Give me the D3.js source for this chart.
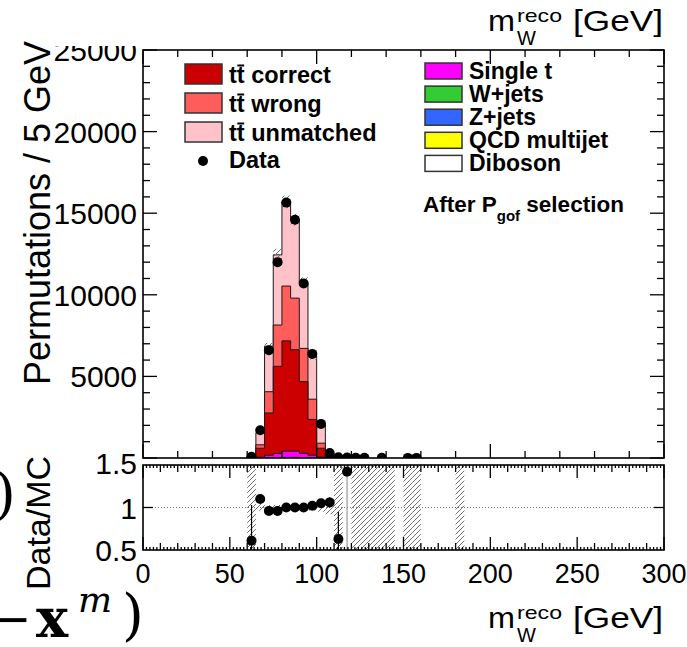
<!DOCTYPE html>
<html><head><meta charset="utf-8">
<script src="https://cdn.jsdelivr.net/npm/d3@7"></script>
<style>body{margin:0;background:#fff}svg{display:block;font-family:"Liberation Sans",Arial,Helvetica,sans-serif}</style>
</head><body><svg id="c" width="687" height="647"></svg>
<script>
// ---------- data ----------
const binStart    = [60, 65, 70, 75, 80, 85, 90, 95, 100, 105, 110, 115];
const binWidth    = 5;
const diboson     = [0, 1, 2, 3, 4, 4, 3, 2, 1, 0, 0, 0];
const qcd         = [0, 0, 5, 5, 5, 5, 5, 5, 0, 0, 0, 0];
const zjets       = [0, 2, 5, 5, 8, 8, 5, 5, 2, 0, 0, 0];
const wjets       = [0, 5, 10, 15, 20, 20, 15, 10, 5, 2, 0, 0];
const singleT     = [5, 40, 150, 250, 380, 380, 260, 150, 50, 10, 5, 0];
const ttCorrect   = [40, 550, 2590, 5340, 6760, 6220, 4390, 2190, 540, 80, 20, 8];
const ttWrong     = [25, 210, 1300, 2530, 3360, 3160, 2040, 1240, 310, 60, 20, 6];
const ttUnmatched = [60, 730, 2790, 4300, 5160, 4800, 4030, 2650, 1100, 135, 35, 7];

const dataX = [62.5, 67.5, 72.5, 77.5, 82.5, 87.5, 92.5, 97.5, 102.5, 107.5, 112.5, 117.5, 122.5, 127.5, 137.5, 152.5, 157.5];
const dataY = [80, 1700, 6600, 12000, 15650, 14600, 10700, 6380, 2090, 300, 50, 30, 15, 10, 8, 6, 6];

const ratioX  = [62.5, 67.5, 72.5, 77.5, 82.5, 87.5, 92.5, 97.5, 102.5, 107.5, 112.5, 117.5];
const ratioY  = [0.61, 1.10, 0.96, 0.96, 1.00, 1.00, 1.00, 1.02, 1.05, 1.06, 0.63, 1.42];
const ratioLo = [0.20, 1.09, 0.95, 0.95, 0.99, 0.99, 0.99, 1.01, 1.03, 1.00, 0.30, 0.30];
const ratioHi = [1.03, 1.11, 0.97, 0.97, 1.01, 1.01, 1.01, 1.03, 1.07, 1.12, 0.95, 2.50];

const uncBins = [60, 65, 70, 75, 80, 85, 90, 95, 100, 105, 110, 115, 120, 125, 130, 135, 140, 145, 150, 155, 160, 165, 170, 175, 180];
const uncRel  = [1, 0.04, 0.03, 0.03, 0.025, 0.025, 0.03, 0.035, 0.05, 0.08, 1, 0, 1, 1, 1, 1, 1, 0, 1, 1, 0, 0, 0, 0, 1];

const xTickLabels = [0, 50, 100, 150, 200, 250, 300];
const yTickLabels = [5000, 10000, 15000, 20000, 25000];
const rTickLabels = [0.5, 1, 1.5];

const legendLeft  = ["correct", "wrong", "unmatched"];
const legendRight = ["Single t", "W+jets", "Z+jets", "QCD multijet", "Diboson"];

// ---------- setup ----------
const svg = d3.select("#c");
const L = 143, R = 664, T = 50, B = 458, RT = 465, RB = 550;
const x  = d3.scaleLinear().domain([0, 300]).range([L, R]);
const y  = d3.scaleLinear().domain([0, 25000]).range([B, T]);
const yr = d3.scaleLinear().domain([0.5, 1.5]).range([RB, RT]);

const colors = {
  diboson: "#ffffff", qcd: "#ffff00", zjets: "#3366ff", wjets: "#33cc33",
  singleT: "#ff00ff", ttCorrect: "#cc0000", ttWrong: "#ff5c5c", ttUnmatched: "#ffc2c8"
};
const keys = ["diboson", "qcd", "zjets", "wjets", "singleT", "ttCorrect", "ttWrong", "ttUnmatched"];
const src = {diboson, qcd, zjets, wjets, singleT, ttCorrect, ttWrong, ttUnmatched};
const rows = binStart.map((b, i) => {
  const r = {b};
  keys.forEach(k => r[k] = src[k][i]);
  return r;
});
const series = d3.stack().keys(keys)(rows);

const defs = svg.append("defs");
const pat = defs.append("pattern").attr("id", "hatch").attr("patternUnits", "userSpaceOnUse")
  .attr("width", 5).attr("height", 5);
pat.append("path").attr("d", "M-1,1 l2,-2 M0,5 l5,-5 M4,6 l2,-2")
  .attr("stroke", "#707070").attr("stroke-width", 1);
defs.append("clipPath").attr("id", "clipMain").append("rect")
  .attr("x", L).attr("y", T).attr("width", R - L).attr("height", B - T);
defs.append("clipPath").attr("id", "clipRatio").append("rect")
  .attr("x", L).attr("y", RT).attr("width", R - L).attr("height", RB - RT);

// ---------- main panel ----------
const gMain = svg.append("g").attr("clip-path", "url(#clipMain)");

function stepPath(tops) {
  let p = `M${x(binStart[0])},${y(0)}`;
  tops.forEach((t, i) => {
    p += `L${x(binStart[i])},${y(t)}L${x(binStart[i] + binWidth)},${y(t)}`;
  });
  p += `L${x(binStart[binStart.length - 1] + binWidth)},${y(0)}Z`;
  return p;
}
for (let k = series.length - 1; k >= 0; k--) {
  const s = series[k];
  gMain.append("path").attr("d", stepPath(s.map(d => d[1])))
    .attr("fill", colors[s.key]).attr("stroke", "#1a1a1a").attr("stroke-width", 1);
}
// MC uncertainty hatch on top of stack
const total = series[series.length - 1].map(d => d[1]);
binStart.forEach((b, i) => {
  const u = uncRel[uncBins.indexOf(b)];
  if (!u || total[i] <= 0) return;
  gMain.append("rect").attr("x", x(b)).attr("width", x(b + binWidth) - x(b))
    .attr("y", y(total[i] * (1 + u))).attr("height", y(total[i] * (1 - u)) - y(total[i] * (1 + u)))
    .attr("fill", "url(#hatch)");
});
gMain.selectAll("circle.d").data(dataX).join("circle")
  .attr("cx", d => x(d)).attr("cy", (d, i) => y(dataY[i])).attr("r", 5).attr("fill", "#000");

// ---------- ratio panel ----------
const gRat = svg.append("g").attr("clip-path", "url(#clipRatio)");
uncBins.forEach((b, i) => {
  const u = uncRel[i];
  if (!u) return;
  const lo = Math.max(0.5, 1 - u), hi = Math.min(1.5, 1 + u);
  gRat.append("rect").attr("x", x(b)).attr("width", x(b + 5) - x(b))
    .attr("y", yr(hi)).attr("height", yr(lo) - yr(hi)).attr("fill", "url(#hatch)");
});
gRat.append("line").attr("x1", L).attr("x2", R).attr("y1", yr(1)).attr("y2", yr(1))
  .attr("stroke", "#777").attr("stroke-width", 1).attr("stroke-dasharray", "1,2");
ratioX.forEach((rx, i) => {
  gRat.append("line").attr("x1", x(rx)).attr("x2", x(rx))
    .attr("y1", yr(ratioLo[i])).attr("y2", yr(ratioHi[i]))
    .attr("stroke", i === 11 ? "#999" : "#000").attr("stroke-width", 1.2);
});
gRat.selectAll("circle.r").data(ratioX).join("circle")
  .attr("cx", d => x(d)).attr("cy", (d, i) => yr(ratioY[i])).attr("r", 5).attr("fill", "#000");

// ---------- frames & ticks ----------
const axG = svg.append("g").attr("stroke", "#000").attr("stroke-width", 1.3);
function tickLine(x1, y1, x2, y2) { axG.append("line").attr("x1", x1).attr("y1", y1).attr("x2", x2).attr("y2", y2); }
// main x ticks (major 100, minor 20)
d3.range(0, 301, 20).forEach(v => {
  const len = v % 100 === 0 ? 14 : 7;
  tickLine(x(v), B, x(v), B - len);
  tickLine(x(v), T, x(v), T + len);
});
// main y ticks (major 5000, minor 1000)
d3.range(0, 25001, 1000).forEach(v => {
  const len = v % 5000 === 0 ? 14 : 7;
  tickLine(L, y(v), L + len, y(v));
  tickLine(R, y(v), R - len, y(v));
});
// ratio x ticks (major 50, minor 10, tiny 2)
d3.range(0, 301, 2).forEach(v => {
  const len = v % 50 === 0 ? 13 : (v % 10 === 0 ? 7 : 3);
  tickLine(x(v), RB, x(v), RB - len);
  tickLine(x(v), RT, x(v), RT + len);
});
tickLine(L, yr(1), L + 10, yr(1));
tickLine(R, yr(1), R - 10, yr(1));
axG.append("rect").attr("x", L).attr("y", T).attr("width", R - L).attr("height", B - T).attr("fill", "none").attr("stroke-width", 1.6);
axG.append("rect").attr("x", L).attr("y", RT).attr("width", R - L).attr("height", RB - RT).attr("fill", "none").attr("stroke-width", 1.6);

// ---------- tick labels ----------
const lab = svg.append("g").attr("fill", "#000");
yTickLabels.forEach(v => lab.append("text").attr("x", 137).attr("y", y(v) + 11)
  .attr("text-anchor", "end").attr("font-size", 30).text(v));
rTickLabels.forEach(v => lab.append("text").attr("x", 137).attr("y", yr(v) + (v === 1.5 ? 9 : 11))
  .attr("text-anchor", "end").attr("font-size", 30).text(v));
xTickLabels.forEach(v => lab.append("text").attr("x", x(v)).attr("y", 583)
  .attr("text-anchor", "middle").attr("font-size", 27).text(v));

// cropped top edge of the first label
svg.append("rect").attr("x", 45).attr("y", 0).attr("width", 96).attr("height", 46).attr("fill", "#fff");

// ---------- axis titles ----------
svg.append("text").attr("transform", "translate(50,213) rotate(-90)").attr("text-anchor", "middle")
  .attr("font-size", 36).text("Permutations / 5 GeV");
svg.append("text").attr("transform", "translate(50,523) rotate(-90)").attr("text-anchor", "middle")
  .attr("font-size", 34).text("Data/MC");

function massTitle(base) {
  const g = svg.append("g");
  g.append("text").attr("x", 488).attr("y", base).attr("font-size", 30)
    .attr("textLength", 27).attr("lengthAdjust", "spacingAndGlyphs").text("m");
  g.append("text").attr("x", 517).attr("y", base - 9).attr("font-size", 19)
    .attr("textLength", 45).attr("lengthAdjust", "spacingAndGlyphs").text("reco");
  g.append("text").attr("x", 517).attr("y", base + 14).attr("font-size", 20).text("W");
  g.append("text").attr("x", 573).attr("y", base).attr("font-size", 30)
    .attr("textLength", 90).attr("lengthAdjust", "spacingAndGlyphs").text("[GeV]");
}
massTitle(628);
massTitle(31);

// ---------- legend ----------
const leg = svg.append("g").attr("font-weight", "bold").attr("font-size", 23.5);
function ttText(xp, yp, rest) {
  const t = leg.append("text").attr("x", xp).attr("y", yp).text("tt " + rest);
  const n = t.node();
  const s = n.getStartPositionOfChar(1).x, e = n.getEndPositionOfChar(1).x;
  leg.append("line").attr("x1", s + 0.5).attr("x2", e - 0.5).attr("y1", yp - 17.5).attr("y2", yp - 17.5)
    .attr("stroke", "#000").attr("stroke-width", 2);
}
const leftKeys = ["ttCorrect", "ttWrong", "ttUnmatched"];
legendLeft.forEach((name, i) => {
  const cy = 74 + i * 29;
  leg.append("rect").attr("x", 185).attr("y", cy - 10).attr("width", 37).attr("height", 20)
    .attr("fill", colors[leftKeys[i]]).attr("stroke", "#333").attr("stroke-width", 1.5);
  ttText(229, cy + 9, name);
});
leg.append("circle").attr("cx", 203).attr("cy", 161).attr("r", 5).attr("fill", "#000");
leg.append("text").attr("x", 229).attr("y", 168).text("Data");

const rightKeys = ["singleT", "wjets", "zjets", "qcd", "diboson"];
legendRight.forEach((name, i) => {
  const cy = 71 + i * 23.1;
  leg.append("rect").attr("x", 425).attr("y", cy - 8).attr("width", 37).attr("height", 16)
    .attr("fill", colors[rightKeys[i]]).attr("stroke", "#333").attr("stroke-width", 1.5);
  leg.append("text").attr("x", 469).attr("y", cy + 8).attr("font-size", 23).text(name);
});
const ann = leg.append("text").attr("x", 423).attr("y", 212).attr("font-size", 22.5);
ann.append("tspan").text("After P");
ann.append("tspan").attr("font-size", 15).attr("dy", 9).text("gof");
ann.append("tspan").attr("dy", -9).text(" selection");

// ---------- cropped fragments at the left edge ----------
const frag = svg.append("g").attr("font-family", "'DejaVu Serif','Liberation Serif',serif").attr("fill", "#000");
frag.append("text").attr("x", -6).attr("y", 513).attr("font-size", 56).text(")");
frag.append("text").attr("x", -10).attr("y", 636).attr("font-size", 50).text("\u2212");
frag.append("text").attr("x", 36).attr("y", 637).attr("font-size", 54).attr("font-weight", "bold").text("x");
frag.append("text").attr("x", 78).attr("y", 612).attr("font-size", 36).attr("font-style", "italic").text("m");
frag.append("text").attr("x", 122).attr("y", 634).attr("font-size", 56).text(")");
</script></body></html>
